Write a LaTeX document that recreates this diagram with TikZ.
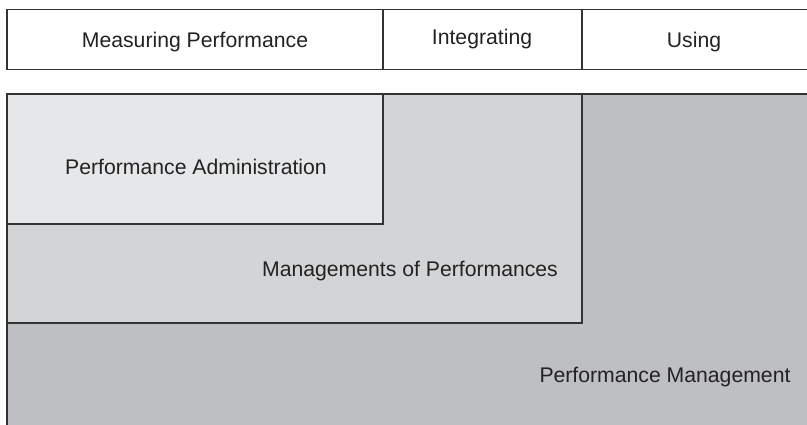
\documentclass[tikz,border=0pt]{standalone}
\usepackage{fontspec}
\setmainfont{Liberation Sans}
\definecolor{edge}{HTML}{333333}
\definecolor{txt}{HTML}{222222}
\definecolor{lightg}{HTML}{E6E7E9}
\definecolor{midg}{HTML}{D3D4D6}
\definecolor{darkg}{HTML}{BEBFC3}
\begin{document}
\begin{tikzpicture}[x=1pt,y=-1pt,
  cell/.style={draw=edge, line width=1.1pt, inner sep=0pt, outer sep=0pt, anchor=north west},
  lbl/.style={font=\fontsize{21.2}{25}\selectfont, text=txt, inner sep=0pt}]
\useasboundingbox (0,0) rectangle (807,424);
\clip (0,0) rectangle (807,424);
% header row
\node[cell, fill=white, minimum width=376pt, minimum height=60pt] (c1) at (7,9.5) {};
\node[cell, fill=white, minimum width=199pt, minimum height=60pt] (c2) at (383,9.5) {};
\node[cell, fill=white, minimum width=240pt, minimum height=60pt] (c3) at (582,9.5) {};
\node[lbl] (t1) at (195,42) {Measuring Performance};
\node[lbl] (t2) at (482,39) {Integrating};
\node[lbl] (t3) at (694,42) {Using};
% nested areas
\node[cell, fill=darkg, minimum width=820pt, minimum height=350pt] (pm) at (7,94) {};
\node[cell, fill=midg, minimum width=575pt, minimum height=229pt] (mp) at (7,94) {};
\node[cell, fill=lightg, minimum width=376pt, minimum height=130pt] (pa) at (7,94) {};
\node[lbl] (tpa) at (196,167) {Performance Administration};
\node[lbl] (tmp) at (410,271) {Managements of Performances};
\node[lbl] (tpm) at (665,377) {Performance Management};
\end{tikzpicture}
\end{document}
